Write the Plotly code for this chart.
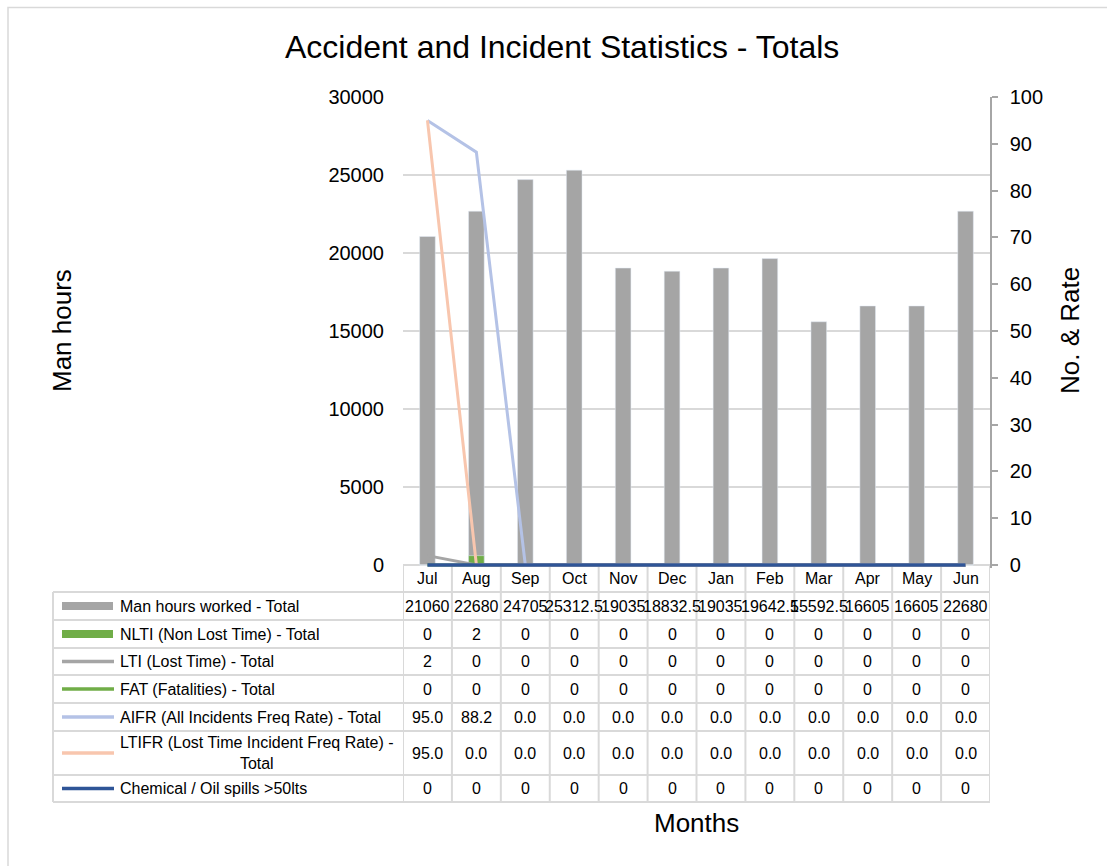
import plotly.graph_objects as go

# ---------------- data ----------------
months = ["Jul", "Aug", "Sep", "Oct", "Nov", "Dec", "Jan", "Feb", "Mar", "Apr", "May", "Jun"]
man_hours = [21060, 22680, 24705, 25312.5, 19035, 18832.5, 19035, 19642.5, 15592.5, 16605, 16605, 22680]
nlti = [0, 2, 0, 0, 0, 0, 0, 0, 0, 0, 0, 0]
lti = [2, 0, 0, 0, 0, 0, 0, 0, 0, 0, 0, 0]
fat = [0, 0, 0, 0, 0, 0, 0, 0, 0, 0, 0, 0]
aifr = [95.0, 88.2, 0.0, 0.0, 0.0, 0.0, 0.0, 0.0, 0.0, 0.0, 0.0, 0.0]
ltifr = [95.0, 0.0, 0.0, 0.0, 0.0, 0.0, 0.0, 0.0, 0.0, 0.0, 0.0, 0.0]
spills = [0, 0, 0, 0, 0, 0, 0, 0, 0, 0, 0, 0]

series_names = [
    "Man hours worked - Total",
    "NLTI (Non Lost Time) - Total",
    "LTI (Lost Time) - Total",
    "FAT (Fatalities) - Total",
    "AIFR (All Incidents Freq Rate) - Total",
    "LTIFR (Lost Time Incident Freq Rate) -<br>Total",
    "Chemical / Oil spills >50lts",
]

title_text = "Accident and Incident Statistics - Totals"
y1_title = "Man hours"
y2_title = "No. & Rate"
x_title = "Months"

# ---------------- styling ----------------
FONT = "Arial, Liberation Sans, sans-serif"
W, H = 1107, 866
PL, PR, PT = 403, 990, 97     # plot area (pixels)
Y0 = 565                      # pixel of value zero
PBP = 568                     # bottom of plot area (a little below zero so the 0-line shows)
Y1MAX, Y2MAX = 30000, 100
pad1 = (PBP - Y0) * Y1MAX / (Y0 - PT)
pad2 = (PBP - Y0) * Y2MAX / (Y0 - PT)

GRID = "#d9d9d9"
C_GRAY = "#a5a5a5"
C_GREEN = "#70ad47"
C_AIFR = "#b4c2e6"
C_LTIFR = "#f8c6ae"
C_SPILL = "#2f5597"


def px2x(xp):
    return (xp - PL) / (PR - PL)


def py2y(yp):
    return (PBP - yp) / (PBP - PT)


fig = go.Figure()

fig.add_trace(go.Bar(x=months, y=man_hours, name=series_names[0], marker_color=C_GRAY,
                     width=0.32, yaxis="y"))
fig.add_trace(go.Bar(x=months, y=nlti, name=series_names[1], marker_color=C_GREEN,
                     width=0.32, yaxis="y2"))
fig.add_trace(go.Scatter(x=months, y=lti, mode="lines", line=dict(color=C_GRAY, width=3), yaxis="y2"))
fig.add_trace(go.Scatter(x=months, y=fat, mode="lines", line=dict(color=C_GREEN, width=3), yaxis="y2"))
fig.add_trace(go.Scatter(x=months, y=aifr, mode="lines", line=dict(color=C_AIFR, width=3), yaxis="y2"))
fig.add_trace(go.Scatter(x=months, y=ltifr, mode="lines", line=dict(color=C_LTIFR, width=3), yaxis="y2"))
fig.add_trace(go.Scatter(x=months, y=spills, mode="lines", line=dict(color=C_SPILL, width=3.5), yaxis="y2"))

shapes = []
annotations = []

# outer chart border
shapes.append(dict(type="rect", xref="paper", yref="paper", x0=px2x(8), x1=px2x(1115),
                   y0=py2y(875), y1=py2y(7.5), line=dict(color=GRID, width=1.5), layer="below"))

# ---------------- data table ----------------
row_edges = [565, 592, 620, 648, 675, 703, 731, 775, 802]
TL = 53  # table left edge
tline = dict(color=GRID, width=2)
n = len(months)
# horizontal lines
shapes.append(dict(type="line", xref="x", yref="paper", x0=-0.5, x1=n - 0.5,
                   y0=py2y(row_edges[0]), y1=py2y(row_edges[0]), line=tline, layer="below"))
for ye in row_edges[1:]:
    shapes.append(dict(type="line", xref="paper", yref="paper", x0=px2x(TL), x1=1,
                       y0=py2y(ye), y1=py2y(ye), line=tline, layer="below"))
# vertical lines
shapes.append(dict(type="line", xref="paper", yref="paper", x0=px2x(TL), x1=px2x(TL),
                   y0=py2y(row_edges[1]), y1=py2y(row_edges[-1]), line=tline, layer="below"))
for i in range(n + 1):
    shapes.append(dict(type="line", xref="x", yref="paper", x0=i - 0.5, x1=i - 0.5,
                       y0=py2y(row_edges[0]), y1=py2y(row_edges[-1]), line=tline, layer="below"))

tfont = dict(family=FONT, size=16, color="#000000")
# header
hy = (row_edges[0] + row_edges[1]) / 2
for m in months:
    annotations.append(dict(x=m, y=py2y(hy), xref="x", yref="paper", text=m, showarrow=False,
                            font=tfont, xanchor="center", yanchor="middle"))

rows = [
    (series_names[0], [f"{v:g}" for v in man_hours], "bar", C_GRAY),
    (series_names[1], [f"{v:d}" for v in nlti], "bar", C_GREEN),
    (series_names[2], [f"{v:d}" for v in lti], "line", C_GRAY),
    (series_names[3], [f"{v:d}" for v in fat], "line", C_GREEN),
    (series_names[4], [f"{v:.1f}" for v in aifr], "line", C_AIFR),
    (series_names[5], [f"{v:.1f}" for v in ltifr], "line", C_LTIFR),
    (series_names[6], [f"{v:d}" for v in spills], "line", C_SPILL),
]
for r, (label, vals, kind, col) in enumerate(rows):
    yc = (row_edges[r + 1] + row_edges[r + 2]) / 2
    if kind == "bar":
        shapes.append(dict(type="rect", xref="paper", yref="paper", x0=px2x(62), x1=px2x(113),
                           y0=py2y(yc + 4), y1=py2y(yc - 4), line=dict(width=0), fillcolor=col))
    else:
        shapes.append(dict(type="line", xref="paper", yref="paper", x0=px2x(62), x1=px2x(114),
                           y0=py2y(yc), y1=py2y(yc), line=dict(color=col, width=3.5)))
    annotations.append(dict(x=px2x(118), y=py2y(yc), xref="paper", yref="paper", text=label,
                            showarrow=False, font=tfont, xanchor="left", yanchor="middle",
                            align="center"))
    for m, v in zip(months, vals):
        annotations.append(dict(x=m, y=py2y(yc), xref="x", yref="paper", text=v, showarrow=False,
                                font=tfont, xanchor="center", yanchor="middle"))

# titles
annotations.append(dict(x=px2x(562), y=py2y(47), xref="paper", yref="paper", text=title_text,
                        showarrow=False, font=dict(family=FONT, size=32, color="#000000"),
                        xanchor="center", yanchor="middle"))
annotations.append(dict(x=px2x(62), y=py2y(331), xref="paper", yref="paper", text=y1_title, textangle=-90,
                        showarrow=False, font=dict(family=FONT, size=26, color="#000000"),
                        xanchor="center", yanchor="middle"))
annotations.append(dict(x=px2x(1070), y=py2y(331), xref="paper", yref="paper", text=y2_title, textangle=-90,
                        showarrow=False, font=dict(family=FONT, size=26, color="#000000"),
                        xanchor="center", yanchor="middle"))
annotations.append(dict(x=0.5, y=py2y(823), xref="paper", yref="paper", text=x_title,
                        showarrow=False, font=dict(family=FONT, size=26, color="#000000"),
                        xanchor="center", yanchor="middle"))

fig.update_layout(
    width=W, height=H,
    margin=dict(l=PL, r=W - PR, t=PT, b=H - PBP, pad=0),
    paper_bgcolor="#ffffff", plot_bgcolor="rgba(0,0,0,0)",
    barmode="overlay", showlegend=False,
    font=dict(family=FONT, color="#000000"),
    xaxis=dict(type="category", range=[-0.5, n - 0.5], showgrid=False, zeroline=False,
               showline=False, showticklabels=False, ticks=""),
    yaxis=dict(range=[-pad1, Y1MAX], tick0=0, dtick=5000, showgrid=True, gridcolor=GRID, gridwidth=1.5,
               zeroline=False, showline=False, ticks="", tickformat="d",
               tickfont=dict(family=FONT, size=20, color="#000000"), ticklabelstandoff=18),
    yaxis2=dict(range=[-pad2, Y2MAX], tick0=0, dtick=10, overlaying="y", side="right", showgrid=False,
                zeroline=False, showline=True, linecolor="#a6a6a6", linewidth=1.5,
                ticks="outside", ticklen=6, tickcolor="#a6a6a6", tickwidth=1.5,
                tickfont=dict(family=FONT, size=20, color="#000000"), ticklabelstandoff=8),
    shapes=shapes, annotations=annotations,
)

fig.write_html("out.html")
